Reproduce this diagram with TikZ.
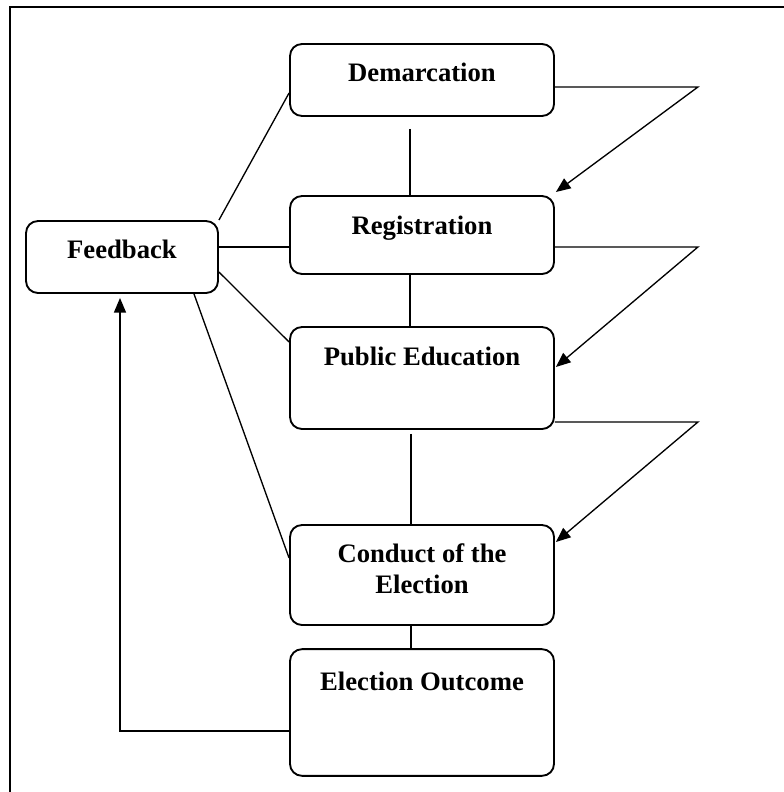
\documentclass[tikz,border=0pt]{standalone}
\usepackage{fontspec}
\setmainfont{Liberation Serif}
\usetikzlibrary{arrows.meta, positioning, calc}

\tikzset{
    stage/.style={draw, line width=1.4pt, rounded corners=9pt, minimum width=198pt, inner sep=0pt},
    stagetext/.style={font=\fontsize{20}{23}\selectfont\bfseries, align=center, inner sep=0pt, anchor=base},
    link/.style={line width=1pt},
    tip/.style={-{Triangle[length=11pt, width=9pt]}}
}

\begin{document}
\begin{tikzpicture}[x=0.75pt, y=-0.75pt]
    \useasboundingbox (0,0) rectangle (784,792);

    % Frame
    \draw[line width=1.5pt] (10,792) -- (10,7) -- (784,7);

    % Stages
    \node[stage, minimum height=54pt] (dem) at (422,80) {};
    \node[stage, minimum height=58.5pt] (reg) at (422,235) {};
    \node[stage, minimum height=76.5pt] (pub) at (422,378) {};
    \node[stage, minimum height=75pt] (con) at (422,575) {};
    \node[stage, minimum height=95pt] (out) at (422,712.5) {};
    \node[stage, minimum width=144pt, minimum height=54pt] (fb) at (122,257) {};

    % Labels
    \node[stagetext] (demtxt) at ($(dem.north)+(0,38)$) {Demarcation};
    \node[stagetext] (regtxt) at ($(reg.north)+(0,39)$) {Registration};
    \node[stagetext] (pubtxt) at ($(pub.north)+(0,39)$) {Public Education};
    \node[stagetext] (contxt) at ($(con.north)+(0,69)$) {Conduct of the\\Election};
    \node[stagetext] (outtxt) at ($(out.north)+(0,42)$) {Election Outcome};
    \node[stagetext] (fbtxt) at ($(fb.north)+(0,38)$) {Feedback};

    % Chain down the middle
    \foreach \a/\b/\dx/\gap in {dem/reg/-12/12, reg/pub/-12/0, pub/con/-11/4, con/out/-11/0}
        \draw[link] ($(\a.south)+(\dx,\gap)$) -- ($(\b.north)+(\dx,0)$);

    % Arrows on the right
    \foreach \a/\b/\dy/\ty in {dem/reg/7/-43, reg/pub/12/-11, pub/con/44/-33}
        \draw[link, tip] ($(\a.east)+(0,\dy)$) -- ++(143,0) -- ($(\b.east)+(1,\ty)$);

    % Feedback lines
    \draw[link] (fb.north east) -- ($(dem.west)+(0,13)$);
    \draw[link] ($(fb.east)+(0,-10)$) -- ($(reg.west)+(0,12)$);
    \draw[link] ($(fb.east)+(0,15)$) -- ($(pub.west)+(0,-36)$);
    \draw[link] ($(fb.south)+(72,0)$) -- ($(con.west)+(0,-17)$);

    % Back to feedback
    \draw[link, tip] ($(out.west)+(0,18.5)$) -| ($(fb.south)+(-2,4)$);
\end{tikzpicture}
\end{document}
